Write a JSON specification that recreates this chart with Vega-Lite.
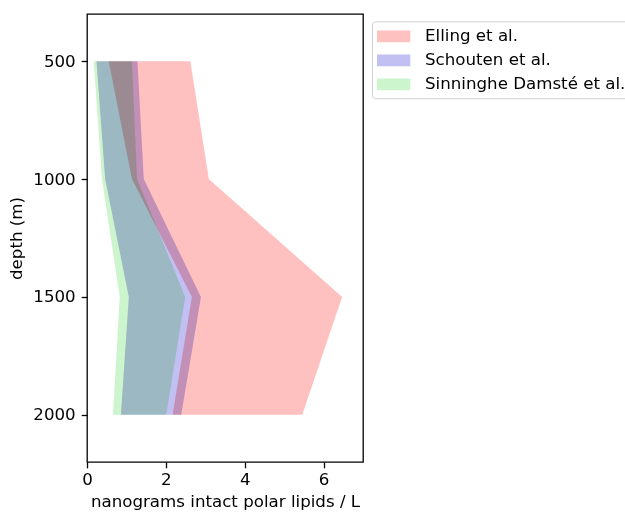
{
  "$schema": "https://vega.github.io/schema/vega-lite/v6.json",
  "width": 276,
  "height": 448,
  "autosize": {"type": "none"},
  "padding": {"left": 87, "top": 14, "right": 262, "bottom": 50},
  "config": {
    "font": "DejaVu Sans",
    "view": {"stroke": "black", "strokeWidth": 1.3},
    "axis": {
      "grid": false,
      "domain": false,
      "tickColor": "black",
      "labelColor": "black",
      "titleColor": "black",
      "tickSize": 5.8,
      "tickWidth": 1.3,
      "labelFontSize": 16.67,
      "titleFontSize": 16.67,
      "titleFontWeight": "normal",
      "labelFlush": false,
      "labelPadding": 4
    },
    "legend": {
      "labelFontSize": 16.67,
      "labelColor": "black",
      "labelLimit": 400
    }
  },
  "data": {
    "values": [
      {"series": "Elling et al.", "depth": 500, "lo": 0.55, "hi": 2.62},
      {"series": "Elling et al.", "depth": 1000, "lo": 1.14, "hi": 3.09},
      {"series": "Elling et al.", "depth": 1500, "lo": 2.66, "hi": 6.47},
      {"series": "Elling et al.", "depth": 2000, "lo": 2.17, "hi": 5.46},
      {"series": "Schouten et al.", "depth": 500, "lo": 0.24, "hi": 1.28},
      {"series": "Schouten et al.", "depth": 1000, "lo": 0.46, "hi": 1.44},
      {"series": "Schouten et al.", "depth": 1500, "lo": 1.06, "hi": 2.89},
      {"series": "Schouten et al.", "depth": 2000, "lo": 0.86, "hi": 2.39},
      {"series": "Sinninghe Damsté et al.", "depth": 500, "lo": 0.17, "hi": 1.14},
      {"series": "Sinninghe Damsté et al.", "depth": 1000, "lo": 0.38, "hi": 1.27},
      {"series": "Sinninghe Damsté et al.", "depth": 1500, "lo": 0.83, "hi": 2.49},
      {"series": "Sinninghe Damsté et al.", "depth": 2000, "lo": 0.66, "hi": 2.01}
    ]
  },
  "mark": {"type": "area", "orient": "horizontal", "blend": "multiply"},
  "encoding": {
    "y": {
      "field": "depth",
      "type": "quantitative",
      "scale": {"domain": [300, 2200], "reverse": true, "nice": false, "zero": false},
      "axis": {"values": [500, 1000, 1500, 2000], "format": "d", "title": "depth (m)", "labelPadding": 6, "titlePadding": 7}
    },
    "x": {
      "field": "lo",
      "type": "quantitative",
      "stack": null,
      "scale": {"domain": [0, 7], "nice": false},
      "axis": {"values": [0, 2, 4, 6], "title": "nanograms intact polar lipids / L", "titlePadding": 5}
    },
    "x2": {"field": "hi"},
    "color": {
      "field": "series",
      "type": "nominal",
      "scale": {
        "domain": ["Elling et al.", "Schouten et al.", "Sinninghe Damsté et al."],
        "range": ["#ffc0c0", "#c2c0f3", "#cdf5cd"]
      },
      "legend": {
        "title": null,
        "orient": "none",
        "legendX": 285,
        "legendY": 7.3,
        "symbolType": "M-1,-0.585L2.33,-0.585L2.33,0.585L-1,0.585Z",
        "symbolSize": 400,
        "symbolStrokeWidth": 0,
        "symbolOpacity": 1,
        "labelOffset": 28,
        "rowPadding": 5,
        "padding": 5,
        "strokeColor": "#d0d0d0",
        "fillColor": "white",
        "cornerRadius": 3
      }
    }
  }
}
